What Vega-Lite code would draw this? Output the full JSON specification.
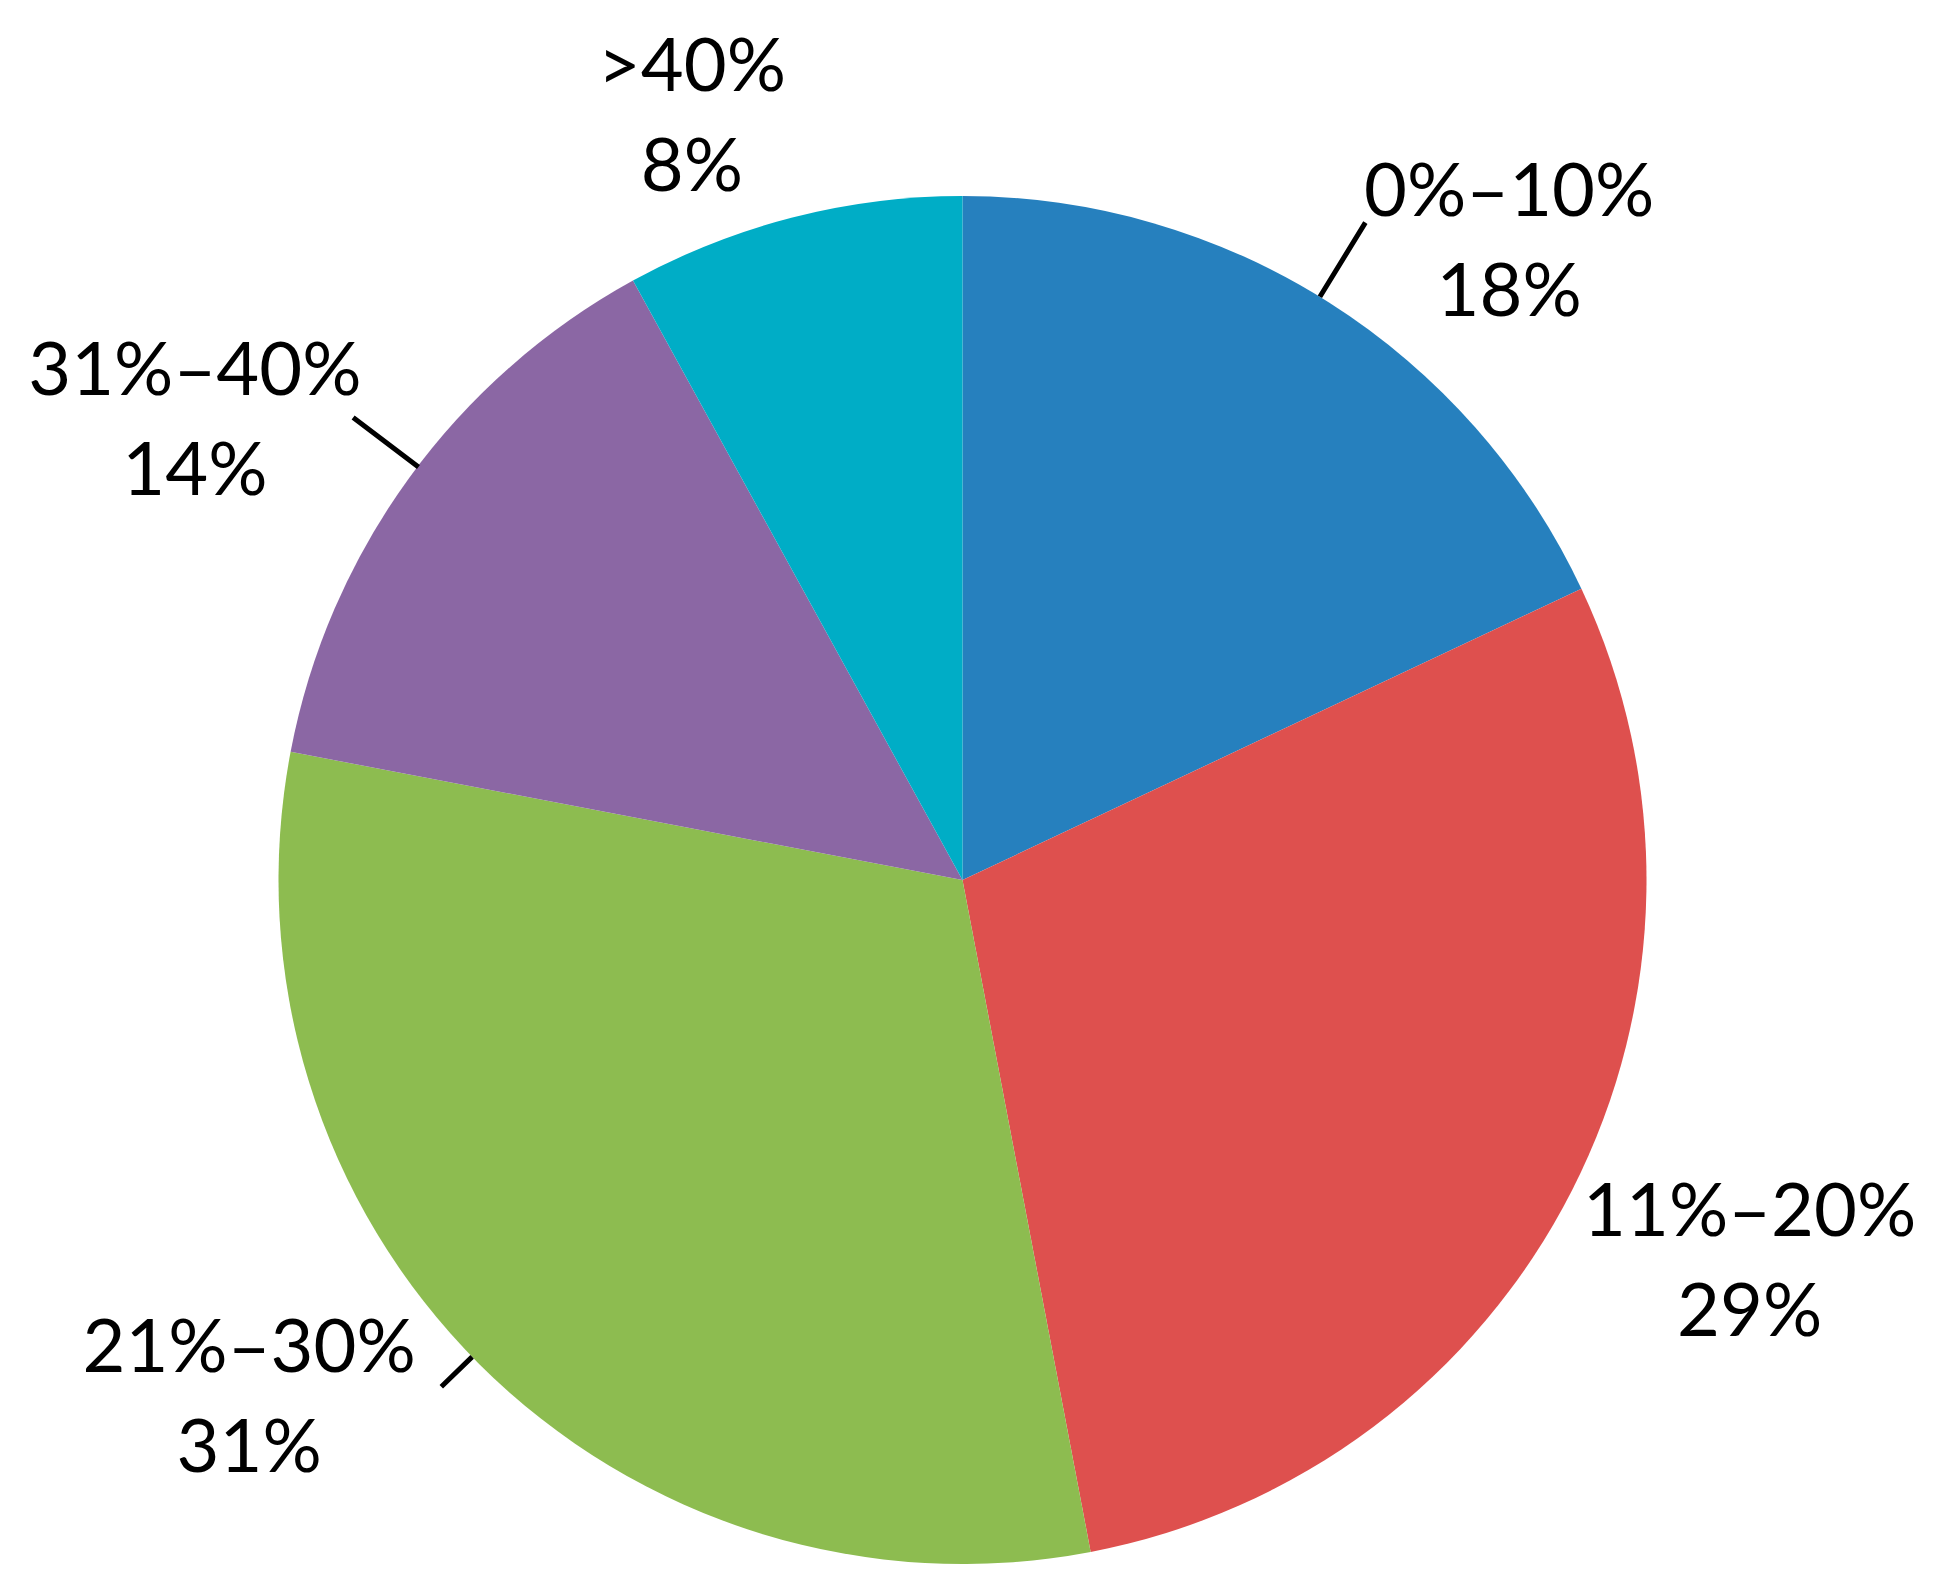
{
  "$schema": "https://vega.github.io/schema/vega-lite/v6.json",
  "width": 1900,
  "height": 1400,
  "autosize": {"type": "none"},
  "padding": {"left": 12.5, "top": 180, "right": 0, "bottom": 0},
  "background": "white",
  "config": {"view": {"stroke": null}},
  "data": {
    "values": [
      {"cat": "0%–10%", "value": 18},
      {"cat": "11%–20%", "value": 29},
      {"cat": "21%–30%", "value": 31},
      {"cat": "31%–40%", "value": 14},
      {"cat": ">40%", "value": 8}
    ]
  },
  "transform": [{"calculate": "[datum.cat, datum.value + '%']", "as": "label"}],
  "encoding": {
    "theta": {"field": "value", "type": "quantitative", "stack": true},
    "order": {"field": "cat", "type": "nominal", "sort": "ascending"},
    "detail": {"field": "cat", "type": "nominal"}
  },
  "layer": [
    {
      "mark": {"type": "arc", "radius": 684},
      "encoding": {
        "color": {
          "field": "cat",
          "type": "nominal",
          "scale": {
            "domain": ["0%–10%", "11%–20%", "21%–30%", "31%–40%", ">40%"],
            "range": ["#2680BE", "#DE504E", "#8DBC50", "#8B67A4", "#00ADC6"]
          },
          "legend": null
        }
      }
    },
    {
      "mark": {"type": "arc", "radius": 771, "radius2": 684, "padAngle": 3.1416, "thetaOffset": -0.0157, "fill": "transparent", "stroke": "black", "strokeWidth": 5},
      "encoding": {"opacity": {"condition": {"test": "datum.cat === '0%–10%'", "value": 1}, "value": 0}}
    },
    {
      "mark": {"type": "arc", "radius": 727, "radius2": 684, "padAngle": 3.1416, "thetaOffset": 0.014, "fill": "transparent", "stroke": "black", "strokeWidth": 5},
      "encoding": {"opacity": {"condition": {"test": "datum.cat === '21%–30%'", "value": 1}, "value": 0}}
    },
    {
      "mark": {"type": "arc", "radius": 765, "radius2": 683, "padAngle": 3.1416, "thetaOffset": 0.0209, "fill": "transparent", "stroke": "black", "strokeWidth": 5},
      "encoding": {"opacity": {"condition": {"test": "datum.cat === '31%–40%'", "value": 1}, "value": 0}}
    },
    {
      "mark": {"type": "text", "radius": 877, "thetaOffset": 0.1075, "font": "Lato", "fontSize": 74, "lineHeight": 100, "align": "center", "baseline": "middle", "color": "black"},
      "encoding": {"text": {"condition": {"test": "datum.cat === '0%–10%'", "field": "label"}, "value": ""}}
    },
    {
      "mark": {"type": "text", "radius": 855, "thetaOffset": -0.0702, "font": "Lato", "fontSize": 74, "lineHeight": 100, "align": "center", "baseline": "middle", "color": "black"},
      "encoding": {"text": {"condition": {"test": "datum.cat === '11%–20%'", "field": "label"}, "value": ""}}
    },
    {
      "mark": {"type": "text", "radius": 854, "thetaOffset": 0.2033, "font": "Lato", "fontSize": 74, "lineHeight": 100, "align": "center", "baseline": "middle", "color": "black"},
      "encoding": {"text": {"condition": {"test": "datum.cat === '21%–30%'", "field": "label"}, "value": ""}}
    },
    {
      "mark": {"type": "text", "radius": 920, "thetaOffset": -0.0445, "font": "Lato", "fontSize": 74, "lineHeight": 100, "align": "center", "baseline": "middle", "color": "black"},
      "encoding": {"text": {"condition": {"test": "datum.cat === '31%–40%'", "field": "label"}, "value": ""}}
    },
    {
      "mark": {"type": "text", "radius": 855, "thetaOffset": -0.0707, "font": "Lato", "fontSize": 74, "lineHeight": 100, "align": "center", "baseline": "middle", "color": "black"},
      "encoding": {"text": {"condition": {"test": "datum.cat === '>40%'", "field": "label"}, "value": ""}}
    }
  ]
}
